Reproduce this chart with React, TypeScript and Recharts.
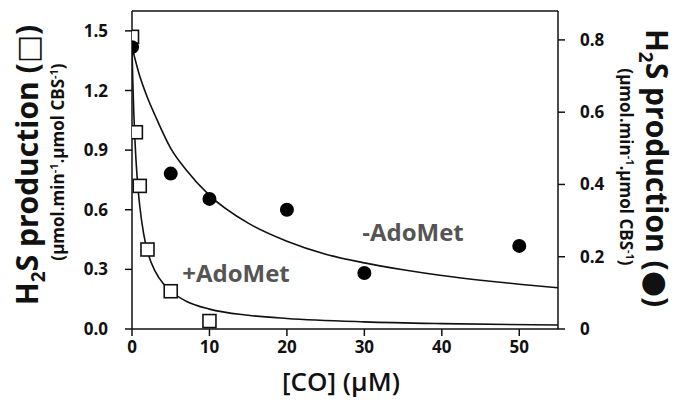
import React from 'react';
import {
  ComposedChart, Line, Scatter, XAxis, YAxis, ReferenceLine,
} from 'recharts';

// +AdoMet measurements (open squares, left axis)
const coPlus = [0, 0.5, 1, 2, 5, 10];
const h2sPlus = [1.47, 0.99, 0.72, 0.4, 0.19, 0.04];

// -AdoMet measurements (filled circles, right axis)
const coMinus = [0, 5, 10, 20, 30, 50];
const h2sMinus = [0.78, 0.43, 0.36, 0.33, 0.155, 0.23];

// fitted curves
const fitPlusCo = [0, 0.1, 0.25, 0.5, 0.75, 1, 1.5, 2, 3, 4, 5, 7, 10, 15, 20, 30, 40, 55];
const fitPlusH2s = [1.42, 1.25, 1.07, 0.86, 0.72, 0.62, 0.48, 0.39, 0.29, 0.23, 0.19, 0.14, 0.1, 0.069, 0.053, 0.036, 0.027, 0.02];
const fitMinusCo = [0, 1, 2, 3, 5, 7, 10, 15, 20, 25, 30, 35, 40, 45, 50, 55];
const fitMinusH2s = [0.78, 0.7, 0.64, 0.59, 0.5, 0.44, 0.37, 0.293, 0.243, 0.207, 0.183, 0.164, 0.148, 0.135, 0.124, 0.114];

const xTicks = [0, 10, 20, 30, 40, 50];
const leftTicks = [0, 0.3, 0.6, 0.9, 1.2, 1.5];
const rightTicks = [0, 0.2, 0.4, 0.6, 0.8];

const zip = (xs: number[], ys: number[]) => xs.map((x, i) => ({ x, y: ys[i] }));

const plusPts = zip(coPlus, h2sPlus);
const minusPts = zip(coMinus, h2sMinus);
const plusFit = zip(fitPlusCo, fitPlusH2s);
const minusFit = zip(fitMinusCo, fitMinusH2s);

const FONT = '"Open Sans", "DejaVu Sans", sans-serif';
const tickStyle = { fontSize: 17, fontWeight: 700, fill: '#111', fontFamily: FONT };

const Square = (props: any) => {
  const { cx, cy } = props;
  return <rect x={cx - 6.5} y={cy - 6.5} width={13} height={13} fill="#fff" stroke="#111" strokeWidth={1.6} />;
};

const Dot = (props: any) => {
  const { cx, cy } = props;
  return <circle cx={cx} cy={cy} r={7} fill="#000" />;
};

const rot = (left: number, top: number, deg: number, style: React.CSSProperties): React.CSSProperties => ({
  position: 'absolute',
  left,
  top,
  transform: `translate(-50%, -50%) rotate(${deg}deg)`,
  whiteSpace: 'nowrap',
  fontFamily: FONT,
  fontWeight: 700,
  color: '#111',
  lineHeight: 1,
  ...style,
});

export default function App() {
  return (
    <div style={{ position: 'absolute', left: 0, top: 0, width: 679, height: 420, background: '#fff' }}>
      <ComposedChart width={679} height={420} margin={{ top: 11, right: 0, bottom: 0, left: 0 }}>
        <XAxis
          type="number"
          dataKey="x"
          domain={[0, 55]}
          ticks={xTicks}
          allowDataOverflow
          height={91}
          stroke="#111"
          strokeWidth={1.5}
          tickSize={7}
          tick={tickStyle}
          tickMargin={5}
        />
        <YAxis
          yAxisId="left"
          domain={[0, 1.6]}
          ticks={leftTicks}
          width={132}
          stroke="#111"
          strokeWidth={1.5}
          tickSize={7}
          tick={tickStyle}
          tickMargin={17}
          tickFormatter={(v: number) => v.toFixed(1)}
          allowDataOverflow
        />
        <YAxis
          yAxisId="right"
          orientation="right"
          domain={[0, 0.88]}
          ticks={rightTicks}
          width={121}
          stroke="#111"
          strokeWidth={1.5}
          tickSize={7}
          tick={tickStyle}
          tickMargin={15}
          tickFormatter={(v: number) => (v === 0 ? '0' : v.toFixed(1))}
          allowDataOverflow
        />
        <ReferenceLine yAxisId="left" y={1.6} stroke="#111" strokeWidth={1.5} />
        <Line
          yAxisId="right"
          data={minusFit}
          dataKey="y"
          type="monotone"
          stroke="#111"
          strokeWidth={1.6}
          dot={false}
          isAnimationActive={false}
        />
        <Line
          yAxisId="left"
          data={plusFit}
          dataKey="y"
          type="monotone"
          stroke="#111"
          strokeWidth={1.6}
          dot={false}
          isAnimationActive={false}
        />
        <Scatter yAxisId="left" data={plusPts} dataKey="y" shape={<Square />} isAnimationActive={false} />
        <Scatter yAxisId="right" data={minusPts} dataKey="y" shape={<Dot />} isAnimationActive={false} />
      </ComposedChart>

      <div style={rot(30, 165, -90, { fontSize: 30 })}>
        H<sub style={{ fontSize: 19 }}>2</sub>S production (□)
      </div>
      <div style={rot(57, 162, -90, { fontSize: 17 })}>
        (µmol.min<sup style={{ fontSize: 11 }}>-1</sup>.µmol CBS<sup style={{ fontSize: 11 }}>-1</sup>)
      </div>
      <div style={rot(654, 168, 90, { fontSize: 30 })}>
        H<sub style={{ fontSize: 19 }}>2</sub>S production (●)
      </div>
      <div style={rot(627, 167, 90, { fontSize: 17 })}>
        (µmol.min<sup style={{ fontSize: 11 }}>-1</sup>.µmol CBS<sup style={{ fontSize: 11 }}>-1</sup>)
      </div>

      <div style={rot(341, 381, 0, { fontSize: 26, fontWeight: 600 })}>[CO] (µM)</div>
      <div style={rot(236, 273, 0, { fontSize: 24, color: '#555' })}>+AdoMet</div>
      <div style={rot(413, 232, 0, { fontSize: 24, color: '#555' })}>-AdoMet</div>
    </div>
  );
}
